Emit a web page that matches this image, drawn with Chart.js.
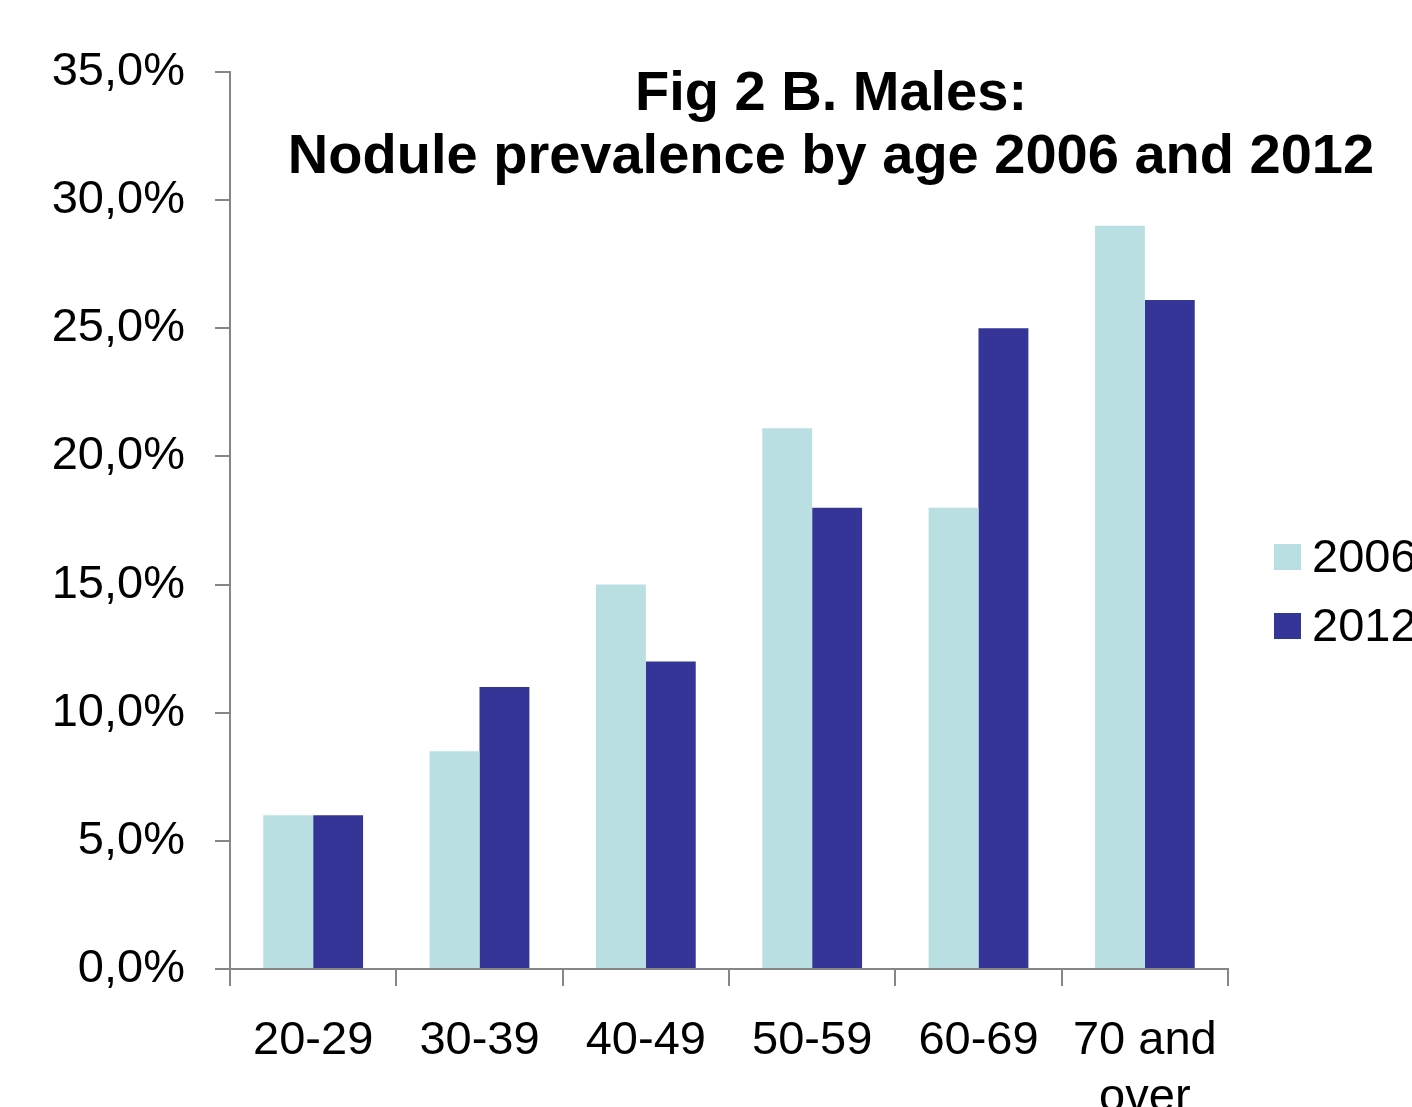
<!DOCTYPE html>
<html>
<head>
<meta charset="utf-8">
<script src="https://cdn.jsdelivr.net/npm/chart.js@4/dist/chart.umd.min.js"></script>
<style>
  html, body { margin: 0; padding: 0; background: #fff; overflow: hidden; }
  #wrap { position: relative; width: 1412px; height: 1107px; }
</style>
</head>
<body>
<div id="wrap"><canvas id="grafico"></canvas></div>
<script>
// data (percent)
const faixas = ["20-29", "30-39", "40-49", "50-59", "60-69", ["70 and", "over"]];
const anos = ["2006", "2012"];
const valores2006 = [6.0, 8.5, 15.0, 21.1, 18.0, 29.0];
const valores2012 = [6.0, 11.0, 12.0, 18.0, 25.0, 26.1];
const yTicks = [0, 5, 10, 15, 20, 25, 30, 35];
const titulo = ["Fig 2 B. Males:", "Nodule prevalence by age 2006 and 2012"];

const cores = ["#b9dfe2", "#353597"];
const cinza = "#868686";
const fonte = "'Liberation Sans', Arial, sans-serif";

// title + legend drawn on the canvas
const extras = {
  id: "extras",
  afterDraw(chart) {
    const ctx = chart.ctx;
    ctx.save();
    ctx.fillStyle = "#000";
    ctx.textAlign = "center";
    ctx.textBaseline = "alphabetic";
    ctx.font = "bold 56px " + fonte;
    ctx.fillText(titulo[0], 831, 110);
    ctx.fillText(titulo[1], 831, 173);

    ctx.textAlign = "left";
    ctx.textBaseline = "middle";
    ctx.font = "47px " + fonte;
    chart.data.datasets.forEach((ds, i) => {
      const y = 557 + i * 69;
      ctx.fillStyle = ds.backgroundColor;
      ctx.fillRect(1274, y - 13, 27, 26);
      ctx.fillStyle = "#000";
      ctx.fillText(ds.label, 1312, y + 2);
    });
    ctx.restore();
  }
};

new Chart(document.getElementById("grafico"), {
  type: "bar",
  data: {
    labels: faixas,
    datasets: [
      { label: anos[0], data: valores2006, backgroundColor: cores[0] },
      { label: anos[1], data: valores2012, backgroundColor: cores[1] }
    ]
  },
  options: {
    responsive: true,
    maintainAspectRatio: false,
    animation: false,
    devicePixelRatio: 1,
    categoryPercentage: 0.6,
    barPercentage: 1.0,
    layout: { padding: { top: 72, right: 184, left: 0, bottom: 0 } },
    plugins: { legend: { display: false }, title: { display: false }, tooltip: { enabled: false } },
    scales: {
      x: {
        grid: { offset: true, drawOnChartArea: false, tickLength: 17, color: cinza, lineWidth: 2 },
        border: { color: cinza, width: 2 },
        ticks: { color: "#000", font: { family: fonte, size: 47 }, padding: 27, maxRotation: 0, autoSkip: false },
        afterFit(s) { s.height = 138; }
      },
      y: {
        min: 0,
        max: 35,
        afterBuildTicks(s) { s.ticks = yTicks.map(v => ({ value: v })); },
        grid: { drawOnChartArea: false, tickLength: 15, color: cinza, lineWidth: 2 },
        border: { color: cinza, width: 2 },
        ticks: {
          color: "#000",
          font: { family: fonte, size: 47 },
          padding: 30,
          callback: v => v.toFixed(1).replace(".", ",") + "%"
        },
        afterFit(s) { s.width = 230; }
      }
    }
  },
  plugins: [extras]
});
</script>
</body>
</html>
